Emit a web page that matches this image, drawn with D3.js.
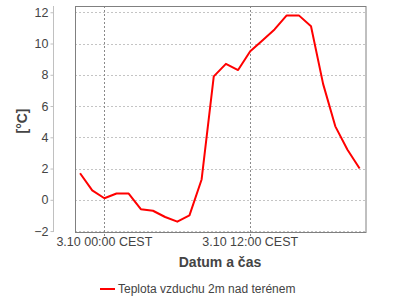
<!DOCTYPE html>
<html>
<head>
<meta charset="utf-8">
<style>
  body { margin: 0; background: #fff; }
  text { font-family: "Liberation Sans", Arial, sans-serif; }
</style>
</head>
<body>
<div id="my_dataviz"></div>
<script src="https://d3js.org/d3.v7.min.js"></script>
<script>
  // hourly readings, first one at 2.10 22:00
  const hours = [22, 23, 0, 1, 2, 3, 4, 5, 6, 7, 8, 9, 10, 11, 12, 13, 14, 15, 16, 17, 18, 19, 20, 21];
  const days = [2, 2, 3, 3, 3, 3, 3, 3, 3, 3, 3, 3, 3, 3, 3, 3, 3, 3, 3, 3, 3, 3, 3, 3];
  const temps = [1.7, 0.6, 0.1, 0.4, 0.4, -0.6, -0.7, -1.1, -1.4, -1.0, 1.3, 7.9, 8.7, 8.3, 9.5, 10.2, 10.9, 11.8, 11.8, 11.1, 7.4, 4.7, 3.2, 2.0];
  const yTicks = [-2, 0, 2, 4, 6, 8, 10, 12];
  const xTickTimes = [new Date(2023, 9, 3, 0), new Date(2023, 9, 3, 12)];
  const xTickLabels = ["3.10 00:00 CEST", "3.10 12:00 CEST"];
  const seriesName = "Teplota vzduchu 2m nad terénem";

  const data = temps.map((t, i) => ({ date: new Date(2023, 9, days[i], hours[i]), value: t }));

  const width = 400, height = 300;
  const plot = { left: 75, top: 6, right: 365.5, bottom: 232 };

  const svg = d3.select("#my_dataviz")
    .append("svg")
      .attr("width", width)
      .attr("height", height);

  // x: small margin either side of the data
  const x = d3.scaleTime()
    .domain([new Date(2023, 9, 2, 21, 35), new Date(2023, 9, 3, 21, 29)])
    .range([plot.left, plot.right]);

  const y = d3.scaleLinear()
    .domain([-2.06, 12.4])
    .range([plot.bottom, plot.top]);

  // horizontal grid
  svg.append("g")
    .selectAll("line")
    .data(yTicks)
    .join("line")
      .attr("x1", plot.left).attr("x2", plot.right)
      .attr("y1", d => Math.round(y(d)) + 0.5).attr("y2", d => Math.round(y(d)) + 0.5)
      .style("stroke", "#c4c4c4")
      .style("stroke-dasharray", "2,2");

  // vertical grid
  svg.append("g")
    .selectAll("line")
    .data(xTickTimes)
    .join("line")
      .attr("x1", d => Math.round(x(d)) + 0.5).attr("x2", d => Math.round(x(d)) + 0.5)
      .attr("y1", plot.top).attr("y2", plot.bottom + 4)
      .style("stroke", "#8a8a8a")
      .style("stroke-dasharray", "2,2");

  // plot frame
  svg.append("rect")
    .attr("x", plot.left + 0.5)
    .attr("y", plot.top + 0.5)
    .attr("width", plot.right - plot.left)
    .attr("height", plot.bottom - plot.top)
    .style("fill", "none")
    .style("stroke", "#808080")
    .style("stroke-width", 1);

  // y axis, drawn away from the plot
  const yAxis = svg.append("g")
    .attr("transform", "translate(53.5,0)")
    .call(d3.axisLeft(y).tickValues(yTicks).tickSize(3).tickPadding(2));
  yAxis.select(".domain").attr("d", `M0,${plot.top}V${plot.bottom}`).style("stroke", "#c0c0c0");
  yAxis.selectAll(".tick line").style("stroke", "#c0c0c0");
  yAxis.selectAll(".tick text")
    .style("font-size", "12.5px")
    .style("fill", "#444")
    .style("font-family", "'Liberation Sans', Arial, sans-serif");

  // x tick labels
  svg.append("g")
    .selectAll("text")
    .data(xTickTimes)
    .join("text")
      .attr("x", d => x(d))
      .attr("y", 246)
      .attr("text-anchor", "middle")
      .style("font-size", "12.5px")
      .style("fill", "#444")
      .text((d, i) => xTickLabels[i]);

  // axis titles
  svg.append("text")
    .attr("x", 220)
    .attr("y", 267)
    .attr("text-anchor", "middle")
    .style("font-size", "14px")
    .style("font-weight", "bold")
    .style("fill", "#444")
    .text("Datum a čas");

  svg.append("text")
    .attr("transform", "translate(27,121) rotate(-90)")
    .attr("text-anchor", "middle")
    .style("font-size", "14px")
    .style("font-weight", "bold")
    .style("fill", "#444")
    .text("[°C]");

  // the series
  const line = d3.line()
    .x(d => x(d.date))
    .y(d => y(d.value));

  svg.append("path")
    .datum(data)
    .attr("d", line)
    .style("fill", "none")
    .style("stroke", "#ff0000")
    .style("stroke-width", 2)
    .style("stroke-linejoin", "round");

  // legend
  svg.append("line")
    .attr("x1", 100).attr("x2", 115)
    .attr("y1", 289).attr("y2", 289)
    .style("stroke", "#ff0000")
    .style("stroke-width", 2);
  svg.append("text")
    .attr("x", 118)
    .attr("y", 293)
    .style("font-size", "12px")
    .style("fill", "#444")
    .text(seriesName);
</script>
</body>
</html>
